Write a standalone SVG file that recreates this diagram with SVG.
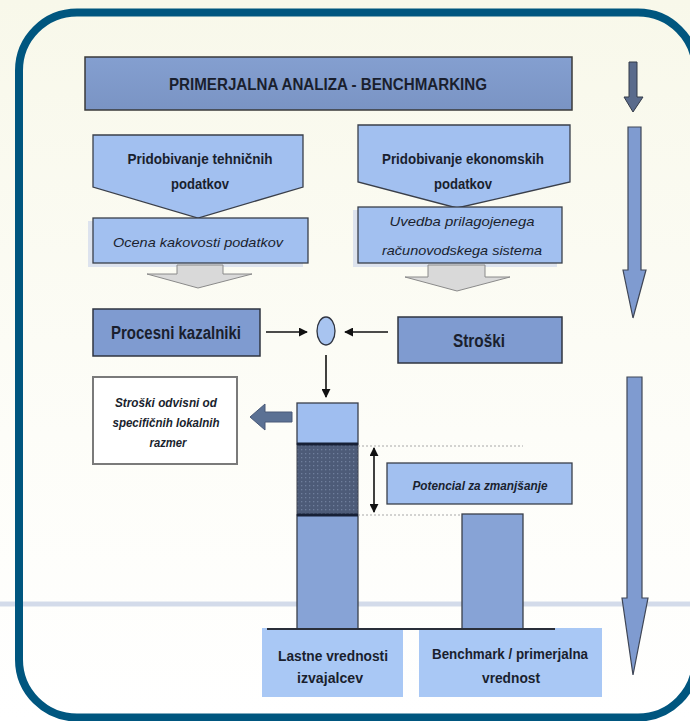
<svg xmlns="http://www.w3.org/2000/svg" width="690" height="721" viewBox="0 0 690 721">
  <defs>
    <linearGradient id="bg" x1="0" y1="0" x2="0" y2="1">
      <stop offset="0" stop-color="#f8f8ea"/>
      <stop offset="0.6" stop-color="#fdfdf8"/>
      <stop offset="1" stop-color="#ffffff"/>
    </linearGradient>
    <linearGradient id="titleFill" x1="0" y1="0" x2="0" y2="1">
      <stop offset="0" stop-color="#849fd0"/>
      <stop offset="1" stop-color="#7a94c4"/>
    </linearGradient>
    <pattern id="dots" width="4" height="4" patternUnits="userSpaceOnUse">
      <rect width="4" height="4" fill="#4d5b78"/>
      <rect x="1" y="1" width="1.3" height="1.3" fill="#6f7e9c"/>
    </pattern>
    <marker id="ah" viewBox="0 0 10 10" refX="9" refY="5" markerWidth="9" markerHeight="9" markerUnits="userSpaceOnUse" orient="auto-start-reverse">
      <path d="M0,0 L10,5 L0,10 Z" fill="#111"/>
    </marker>
    <style>
      .t { font-family: "Liberation Sans", Arial, sans-serif; fill: #1a1f2e; text-anchor: middle; }
      .b { font-weight: bold; }
      .i { font-style: italic; }
      .lb { fill: #a2c0f0; stroke: #3a3f4a; stroke-width: 1.3; }
      .mb { fill: #7f9bd0; stroke: #2f3440; stroke-width: 1.5; }
      .sh { fill: #dde3ee; }
      .grayArrow { fill: #d9d9d9; stroke: #8a8a8a; stroke-width: 1; }
      .conn { stroke: #111; stroke-width: 1.6; fill: none; }
      .dot { stroke: #a8a8a8; stroke-width: 1; stroke-dasharray: 2 2; fill: none; }
    </style>
  </defs>

  <rect x="0" y="0" width="690" height="721" fill="url(#bg)"/>
  <line x1="0" y1="604" x2="690" y2="604" stroke="#d3dbea" stroke-width="5"/>
  <rect id="frame" x="19" y="12.5" width="677" height="705" rx="58" fill="none" stroke="#00567f" stroke-width="8"/>

  <g id="title">
    <rect x="85" y="57" width="487" height="53" fill="url(#titleFill)" stroke="#3a3a3a" stroke-width="1.5"/>
    <text class="t b" x="328" y="90" font-size="16.5" textLength="318" lengthAdjust="spacingAndGlyphs">PRIMERJALNA ANALIZA - BENCHMARKING</text>
  </g>

  <g id="tech">
    <path class="lb" d="M93,135 H303 V187 L198,218 L93,187 Z"/>
    <text class="t b" x="200" y="164" font-size="15" textLength="145" lengthAdjust="spacingAndGlyphs">Pridobivanje tehničnih</text>
    <text class="t b" x="200" y="189" font-size="15" textLength="58" lengthAdjust="spacingAndGlyphs">podatkov</text>
  </g>
  <g id="econ">
    <path class="lb" d="M358,125 H570 V182 L457,208 L358,182 Z"/>
    <text class="t b" x="463" y="164" font-size="15" textLength="162" lengthAdjust="spacingAndGlyphs">Pridobivanje ekonomskih</text>
    <text class="t b" x="463" y="189" font-size="15" textLength="58" lengthAdjust="spacingAndGlyphs">podatkov</text>
  </g>

  <g id="ocena">
    <rect class="sh" x="88" y="221" width="215" height="46"/>
    <rect class="lb" x="93" y="218" width="215" height="45"/>
    <text class="t i" x="198" y="247" font-size="13.5" textLength="170" lengthAdjust="spacingAndGlyphs">Ocena kakovosti podatkov</text>
  </g>
  <g id="uvedba">
    <rect class="sh" x="353" y="210" width="204" height="57"/>
    <rect class="lb" x="358" y="207" width="204" height="56"/>
    <text class="t i" x="462" y="226" font-size="13.5" textLength="145" lengthAdjust="spacingAndGlyphs">Uvedba prilagojenega</text>
    <text class="t i" x="462" y="255" font-size="13.5" textLength="160" lengthAdjust="spacingAndGlyphs">računovodskega sistema</text>
  </g>

  <g id="procesni">
    <rect class="mb" x="93" y="309" width="167" height="47"/>
    <text class="t b" x="176" y="339" font-size="18" textLength="130" lengthAdjust="spacingAndGlyphs">Procesni kazalniki</text>
  </g>
  <g id="stroski">
    <rect class="mb" x="398" y="317" width="164" height="46"/>
    <text class="t b" x="479" y="347" font-size="18" textLength="52" lengthAdjust="spacingAndGlyphs">Stroški</text>
  </g>
  <g id="node-circle">
    <ellipse cx="326" cy="331" rx="9" ry="14" fill="#a8c4f0" stroke="#2f3440" stroke-width="1.3"/>
  </g>

  <g id="razmer">
    <rect x="93" y="377" width="144" height="87" fill="#ffffff" stroke="#7a7a7a" stroke-width="2"/>
    <text class="t i b" x="166" y="407" font-size="12.5" textLength="102" lengthAdjust="spacingAndGlyphs">Stroški odvisni od</text>
    <text class="t i b" x="166" y="427" font-size="12.5" textLength="107" lengthAdjust="spacingAndGlyphs">specifičnih lokalnih</text>
    <text class="t i b" x="168" y="447" font-size="12.5" textLength="37" lengthAdjust="spacingAndGlyphs">razmer</text>
  </g>

  <g id="bar-own">
    <rect x="297" y="403" width="61" height="41" fill="#9fbef0" stroke="#3a3f4a" stroke-width="1.3"/>
    <rect x="297" y="444" width="61" height="71" fill="url(#dots)" stroke="#3a3f4a" stroke-width="1"/>
    <rect x="297" y="515" width="61" height="114" fill="#87a3d6" stroke="#3a3f4a" stroke-width="1.3"/>
    <line x1="297" y1="444" x2="358" y2="444" stroke="#172036" stroke-width="3"/>
    <line x1="297" y1="515" x2="358" y2="515" stroke="#172036" stroke-width="3"/>
  </g>
  <g id="bar-benchmark">
    <rect x="462" y="514" width="61" height="115" fill="#87a3d6" stroke="#3a3f4a" stroke-width="1.3"/>
  </g>

  <g id="potencial">
    <rect class="lb" x="387" y="463" width="185" height="41" stroke="#6a6f7a"/>
    <text class="t i b" x="480" y="490" font-size="13.5" textLength="135" lengthAdjust="spacingAndGlyphs">Potencial za zmanjšanje</text>
  </g>

  <g id="label-own">
    <rect x="262" y="628" width="141" height="69" fill="#a9c8f5"/>
    <text class="t b" x="333" y="661" font-size="14" textLength="110" lengthAdjust="spacingAndGlyphs">Lastne vrednosti</text>
    <text class="t b" x="330" y="683" font-size="14" textLength="66" lengthAdjust="spacingAndGlyphs">izvajalcev</text>
  </g>
  <g id="label-benchmark">
    <rect x="419" y="628" width="183" height="69" fill="#a9c8f5"/>
    <text class="t b" x="510" y="659" font-size="14" textLength="156" lengthAdjust="spacingAndGlyphs">Benchmark / primerjalna</text>
    <text class="t b" x="511" y="683" font-size="14" textLength="58" lengthAdjust="spacingAndGlyphs">vrednost</text>
  </g>

  <g id="connectors">
    <path class="grayArrow" d="M177,265 H223 V274 H252 L198,288 L147,274 H177 Z"/>
    <path class="grayArrow" d="M428,265 H485 V277 H510 L457,291 L405,277 H428 Z"/>
    <line class="conn" x1="266" y1="332" x2="307" y2="332" marker-end="url(#ah)"/>
    <line class="conn" x1="388" y1="332" x2="345" y2="332" marker-end="url(#ah)"/>
    <line class="conn" x1="326" y1="355" x2="326" y2="397" marker-end="url(#ah)"/>
    <path d="M292,412 H265 V404 L250,417 L265,430 V422 H292 Z" fill="#5b7194" stroke="#4a5a78" stroke-width="1"/>
    <line class="dot" x1="358" y1="446" x2="523" y2="446"/>
    <line class="dot" x1="358" y1="515" x2="462" y2="515"/>
    <line class="conn" x1="374" y1="448" x2="374" y2="512" marker-start="url(#ah)" marker-end="url(#ah)"/>
    <line x1="267" y1="629" x2="555" y2="629" stroke="#2a2f3a" stroke-width="2"/>
    <path d="M629,62 H637 V97 H643 L633,112 L624,97 H629 Z" fill="#5a6b8c" stroke="#333a48" stroke-width="1"/>
    <path d="M628,127 H641 V270 H646 L633,318 L623,270 H628 Z" fill="#7f9bd0" stroke="#3f4656" stroke-width="1.2"/>
    <path d="M627,377 H642 V598 H648 L633,675 L622,598 H627 Z" fill="#7f9bd0" stroke="#3f4656" stroke-width="1.2"/>
  </g>
</svg>
